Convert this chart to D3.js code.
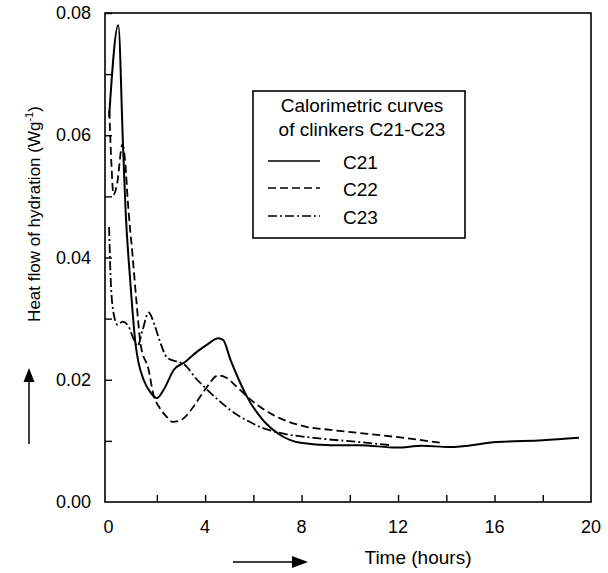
<!DOCTYPE html>
<html>
<head>
<meta charset="utf-8">
<script src="https://cdn.jsdelivr.net/npm/d3@7"></script>
<style>
  body { margin: 0; background: #fff; }
  text { font-family: "Liberation Sans", Arial, sans-serif; fill: #000; }
</style>
</head>
<body>
<div id="chart"></div>
<script>
// heat flow curves (time in hours, flow in W/g)
var c21Time = [0.02, 0.4, 0.6, 0.7, 0.9, 1.12, 1.24, 1.45, 1.74, 2.0, 2.3, 2.7, 3.2, 3.67, 4.1, 4.55, 4.75, 5.05, 5.4, 5.74, 6.4, 7.1, 7.95, 9.2, 10.4, 11.95, 13.0, 14.1, 16.1, 18.0, 19.5];
var c21Flow = [0.063, 0.078, 0.058, 0.048, 0.036, 0.0257, 0.0228, 0.020, 0.0179, 0.017, 0.0185, 0.0216, 0.023, 0.0246, 0.0258, 0.0268, 0.0265, 0.0233, 0.020, 0.0172, 0.0134, 0.011, 0.0097, 0.0093, 0.0093, 0.0089, 0.0092, 0.009, 0.0098, 0.0101, 0.0105];

var c22Time = [0.03, 0.12, 0.2, 0.35, 0.57, 0.7, 0.79, 1.0, 1.15, 1.33, 1.66, 1.86, 2.1, 2.44, 2.65, 3.0, 3.5, 4.0, 4.55, 4.9, 5.3, 5.9, 6.8, 8.2, 9.2, 10.4, 12.0, 13.75];
var c22Flow = [0.064, 0.055, 0.0503, 0.052, 0.0585, 0.055, 0.0495, 0.040, 0.033, 0.0257, 0.0216, 0.0175, 0.0155, 0.0138, 0.0131, 0.0134, 0.0155, 0.0184, 0.0207, 0.0203, 0.0189, 0.0167, 0.0143, 0.0123, 0.0118, 0.0113, 0.0106, 0.0097];

var c23Time = [0.02, 0.08, 0.2, 0.37, 0.58, 0.83, 1.0, 1.2, 1.4, 1.66, 1.9, 2.1, 2.43, 2.8, 3.1, 3.67, 4.0, 4.6, 5.2, 5.8, 6.4, 7.1, 8.5, 10.4, 11.7];
var c23Flow = [0.045, 0.037, 0.031, 0.029, 0.0295, 0.0287, 0.027, 0.0255, 0.028, 0.031, 0.029, 0.0266, 0.0236, 0.023, 0.0226, 0.020, 0.0187, 0.0165, 0.0146, 0.0132, 0.0121, 0.0113, 0.0105, 0.0098, 0.0093];

var seriesNames = ["C21", "C22", "C23"];
var xTickLabels = [0, 4, 8, 12, 16, 20];
var yTickLabels = [0.00, 0.02, 0.04, 0.06, 0.08];
var legendTitle = ["Calorimetric curves", "of clinkers C21-C23"];

var W = 608, H = 573;
var plotL = 105, plotR = 591, plotT = 13, plotB = 502;

var svg = d3.select('#chart').append('svg')
  .attr('width', W)
  .attr('height', H);

var x = d3.scaleLinear().domain([-0.15, 20]).range([plotL, plotR]);
var y = d3.scaleLinear().domain([0, 0.08]).range([plotB, plotT]);

// frame
svg.append('rect')
  .attr('x', plotL).attr('y', plotT)
  .attr('width', plotR - plotL).attr('height', plotB - plotT)
  .attr('fill', 'none').attr('stroke', '#000').attr('stroke-width', 1.6);

// inward ticks
var xAxis = d3.axisBottom(x).tickValues(d3.range(2, 20, 2)).tickSize(-7).tickFormat('');
svg.append('g').attr('transform', 'translate(0,' + plotB + ')').call(xAxis)
  .call(g => g.select('.domain').remove())
  .selectAll('line').attr('stroke-width', 1.4);
var yAxis = d3.axisLeft(y).tickValues(d3.range(0.01, 0.08, 0.01)).tickSize(-7).tickFormat('');
svg.append('g').attr('transform', 'translate(' + plotL + ',0)').call(yAxis)
  .call(g => g.select('.domain').remove())
  .selectAll('line').attr('stroke-width', 1.4);

// tick labels
svg.selectAll('.xl').data(xTickLabels).enter().append('text')
  .attr('class', 'xl')
  .attr('x', d => x(d))
  .attr('y', 533)
  .attr('text-anchor', 'middle')
  .attr('font-size', 18)
  .text(d => d);
svg.selectAll('.yl').data(yTickLabels).enter().append('text')
  .attr('class', 'yl')
  .attr('x', 91)
  .attr('y', d => y(d) + 6)
  .attr('text-anchor', 'end')
  .attr('font-size', 18)
  .text(d => d.toFixed(2));

// axis titles + arrows
var yt = svg.append('text')
  .attr('transform', 'translate(40,214) rotate(-90)')
  .attr('text-anchor', 'middle')
  .attr('font-size', 17);
yt.append('tspan').text('Heat flow of hydration (Wg');
yt.append('tspan').attr('dy', -7).attr('font-size', 11).text('-1');
yt.append('tspan').attr('dy', 7).text(')');

svg.append('text')
  .attr('x', 418).attr('y', 564)
  .attr('text-anchor', 'middle')
  .attr('font-size', 19)
  .text('Time (hours)');

svg.append('line').attr('x1', 29).attr('x2', 29).attr('y1', 444).attr('y2', 380)
  .attr('stroke', '#000').attr('stroke-width', 1.5);
svg.append('path').attr('d', 'M29,368 L23.5,382 L34.5,382 Z').attr('fill', '#000');
svg.append('line').attr('x1', 233).attr('x2', 294).attr('y1', 562).attr('y2', 562)
  .attr('stroke', '#000').attr('stroke-width', 1.5);
svg.append('path').attr('d', 'M308,562 L292,556 L292,568 Z').attr('fill', '#000');

// curves
var dashes = ['none', '8,4', '9,3,2,3'];
var series = [
  c21Time.map((t, i) => [t, c21Flow[i]]),
  c22Time.map((t, i) => [t, c22Flow[i]]),
  c23Time.map((t, i) => [t, c23Flow[i]])
];
var line = d3.line()
  .x(d => x(d[0]))
  .y(d => y(d[1]))
  .curve(d3.curveMonotoneX);

svg.selectAll('.curve').data(series).enter().append('path')
  .attr('class', 'curve')
  .attr('d', line)
  .attr('fill', 'none')
  .attr('stroke', '#000')
  .attr('stroke-width', (d, i) => i == 0 ? 2 : 1.8)
  .attr('stroke-dasharray', (d, i) => dashes[i]);

// legend
var lg = svg.append('g');
lg.append('rect')
  .attr('x', 253).attr('y', 91)
  .attr('width', 212).attr('height', 147)
  .attr('fill', '#fff').attr('stroke', '#000').attr('stroke-width', 1.6);
lg.selectAll('.lt').data(legendTitle).enter().append('text')
  .attr('class', 'lt')
  .attr('x', 362)
  .attr('y', (d, i) => 112 + i * 24)
  .attr('text-anchor', 'middle')
  .attr('font-size', 19)
  .text(d => d);
var entries = lg.selectAll('.le').data(seriesNames).enter().append('g')
  .attr('class', 'le')
  .attr('transform', (d, i) => 'translate(0,' + [161, 188, 216][i] + ')');
entries.append('line')
  .attr('x1', 268).attr('x2', 320)
  .attr('stroke', '#000').attr('stroke-width', 1.7)
  .attr('stroke-dasharray', (d, i) => dashes[i]);
entries.append('text')
  .attr('x', 343).attr('y', 8)
  .attr('font-size', 19)
  .text(d => d);
</script>
</body>
</html>
